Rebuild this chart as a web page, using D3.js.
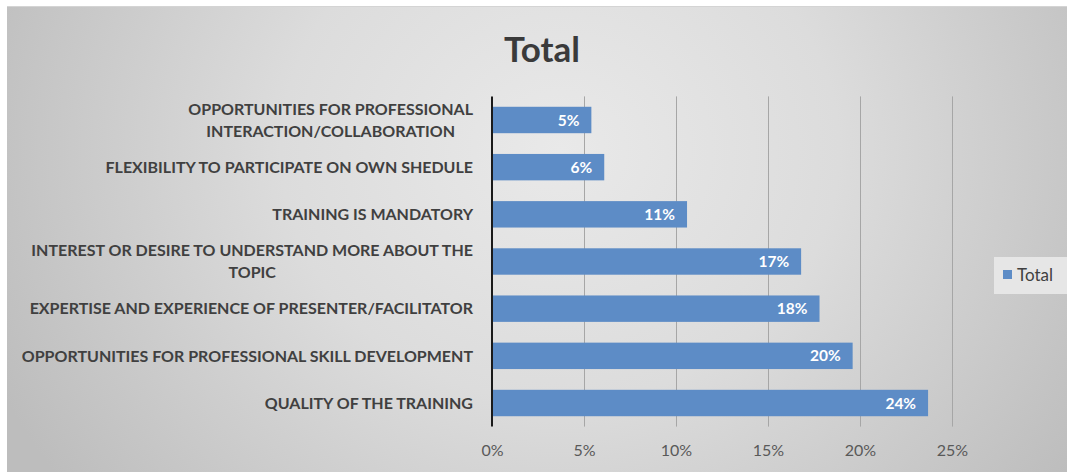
<!DOCTYPE html>
<html>
<head>
<meta charset="utf-8">
<script src="https://cdn.jsdelivr.net/npm/d3@7"></script>
<style>
  html, body { margin: 0; padding: 0; background: #fff; }
  svg { display: block; }
</style>
</head>
<body>
<svg id="chart" width="1067" height="472"></svg>
<script>
// Reasons for participating in training (share of responses, %)
const categories = [
  ["OPPORTUNITIES FOR PROFESSIONAL", "INTERACTION/COLLABORATION"],
  ["FLEXIBILITY TO PARTICIPATE ON OWN SHEDULE"],
  ["TRAINING IS MANDATORY"],
  ["INTEREST OR DESIRE TO UNDERSTAND MORE ABOUT THE", "TOPIC"],
  ["EXPERTISE AND EXPERIENCE OF PRESENTER/FACILITATOR"],
  ["OPPORTUNITIES FOR PROFESSIONAL SKILL DEVELOPMENT"],
  ["QUALITY OF THE TRAINING"]
];
const totalValues = [5.4, 6.1, 10.6, 16.8, 17.8, 19.6, 23.7];
const xTicks = [0, 5, 10, 15, 20, 25];
const seriesName = "Total";

const svg = d3.select("#chart");
const W = 1067, H = 472;

// background panel with soft radial shading
const defs = svg.append("defs");
const grad = defs.append("radialGradient")
  .attr("id", "bg")
  .attr("gradientUnits", "userSpaceOnUse")
  .attr("cx", 560).attr("cy", 150).attr("r", 620)
  .attr("gradientTransform", "translate(560,150) scale(1,0.9) translate(-560,-150)");
grad.append("stop").attr("offset", 0).attr("stop-color", "#e9e9e9");
grad.append("stop").attr("offset", 0.45).attr("stop-color", "#dcdcdc");
grad.append("stop").attr("offset", 1).attr("stop-color", "#bdbdbd");

svg.append("rect")
  .attr("x", 7).attr("y", 7).attr("width", W - 7).attr("height", H - 7)
  .attr("fill", "url(#bg)");
svg.append("line")
  .attr("x1", 7).attr("x2", W).attr("y1", 6.5).attr("y2", 6.5)
  .attr("stroke", "#d4d4d4").attr("stroke-width", 1);

const plotLeft = 492, plotRight = 952, plotTop = 96.4, plotBottom = 426.6;

const x = d3.scaleLinear().domain([0, 25]).range([plotLeft, plotRight]);
const y = d3.scaleBand()
  .domain(d3.range(categories.length))
  .range([plotTop, plotBottom])
  .paddingInner(0.44)
  .paddingOuter(0.22);

// title
svg.append("text")
  .attr("x", 542).attr("y", 62)
  .attr("text-anchor", "middle")
  .attr("font-family", "Lato, sans-serif")
  .attr("font-weight", 700)
  .attr("font-size", 35)
  .attr("fill", "#3a3a3a")
  .text(seriesName);

// vertical gridlines
svg.append("g")
  .selectAll("line")
  .data(xTicks.filter(d => d > 0))
  .join("line")
  .attr("x1", d => x(d) + 0.5).attr("x2", d => x(d) + 0.5)
  .attr("y1", plotTop).attr("y2", plotBottom)
  .attr("stroke", "#a6a6a6").attr("stroke-width", 1);

// x axis tick labels
const xAxis = d3.axisBottom(x)
  .tickValues(xTicks)
  .tickFormat(d => d + "%")
  .tickSize(0)
  .tickPadding(0);
const gx = svg.append("g")
  .attr("transform", `translate(0,${plotBottom + 18})`)
  .call(xAxis);
gx.select(".domain").remove();
gx.selectAll("text")
  .attr("font-family", "Lato, sans-serif")
  .attr("font-size", 16)
  .attr("fill", "#595959");

// bars
svg.append("g")
  .selectAll("rect")
  .data(totalValues)
  .join("rect")
  .attr("x", x(0))
  .attr("y", (d, i) => y(i))
  .attr("width", d => x(d) - x(0))
  .attr("height", y.bandwidth())
  .attr("fill", "#5d8cc6");

// data labels
svg.append("g")
  .selectAll("text")
  .data(totalValues)
  .join("text")
  .attr("x", d => x(d) - 12)
  .attr("y", (d, i) => y(i) + y.bandwidth() / 2)
  .attr("dy", "0.36em")
  .attr("text-anchor", "end")
  .attr("font-family", "Lato, sans-serif")
  .attr("font-weight", 700)
  .attr("font-size", 15.5)
  .attr("fill", "#ffffff")
  .text(d => Math.round(d) + "%");

// category axis line
svg.append("line")
  .attr("x1", plotLeft).attr("x2", plotLeft)
  .attr("y1", plotTop).attr("y2", plotBottom)
  .attr("stroke", "#1a1a1a").attr("stroke-width", 2);

// category labels (multi-line labels are centred within their block)
const labelRight = 473;
const lineH = 22;
const gl = svg.append("g")
  .attr("font-family", "Lato, sans-serif")
  .attr("font-weight", 700)
  .attr("font-size", 16)
  .attr("fill", "#404040");
categories.forEach((lines, i) => {
  const cy = y(i) + y.bandwidth() / 2;
  const g = gl.append("g");
  const texts = lines.map((t, k) => g.append("text")
    .attr("y", cy + (k - (lines.length - 1) / 2) * lineH)
    .attr("dy", "0.36em")
    .text(t));
  const widths = texts.map(t => t.node().getComputedTextLength());
  const maxW = d3.max(widths);
  texts.forEach(t => t.attr("x", labelRight - maxW / 2).attr("text-anchor", "middle"));
});

// legend
const lg = svg.append("g").attr("transform", "translate(994,257)");
lg.append("rect")
  .attr("width", 73).attr("height", 37)
  .attr("fill", "#e6e6e6");
lg.append("rect")
  .attr("x", 9).attr("y", 13).attr("width", 9).attr("height", 9)
  .attr("fill", "#5d8cc6");
lg.append("text")
  .attr("x", 23).attr("y", 18)
  .attr("dy", "0.36em")
  .attr("font-family", "Lato, sans-serif")
  .attr("font-size", 17)
  .attr("fill", "#404040")
  .text(seriesName);
</script>
</body>
</html>
